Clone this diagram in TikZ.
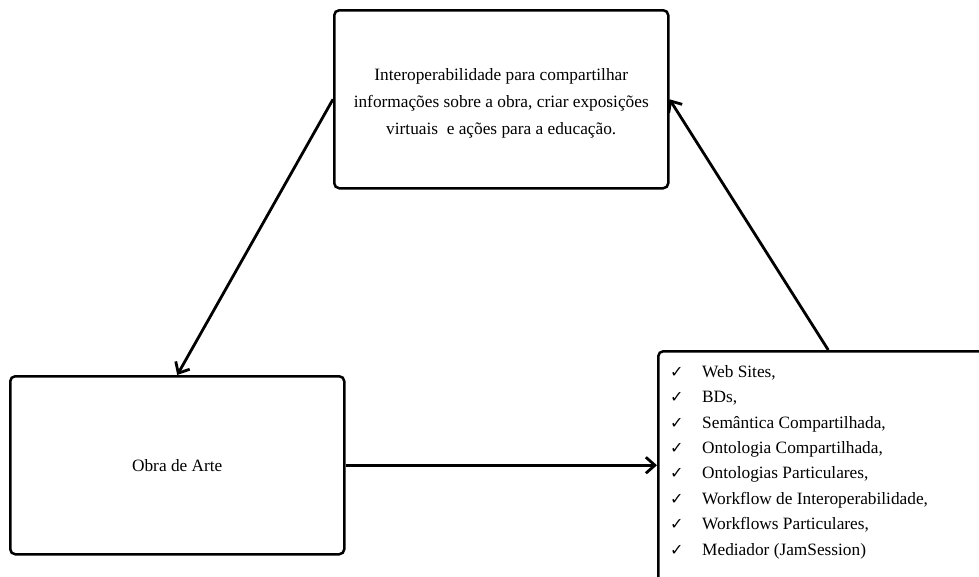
\documentclass[tikz,border=0pt]{standalone}
\usepackage{fontspec}
\setmainfont{Liberation Serif}
\newfontfamily\symfont{DejaVu Sans}
\usetikzlibrary{arrows.meta}
\newcommand{\tick}{\makebox[32pt][l]{\symfont\fontsize{16}{25.4}\selectfont ✓}}
\begin{document}
\begin{tikzpicture}[x=1pt,y=-1pt,
  box/.style={draw=black,line width=2.5pt,rounded corners=5pt,inner sep=0pt},
  link/.style={line width=2.8pt,-{Straight Barb[length=9pt,width=16pt,line width=2.8pt]}},
  every node/.style={font=\fontsize{17.3}{27}\selectfont}]
\useasboundingbox (0,0) rectangle (979,576);
\clip (0,0) rectangle (979,576);
% the three boxes
\node[box,minimum width=334pt,minimum height=178pt,anchor=north west] (goal) at (333,9) {};
\node[align=center,inner sep=0pt] (goaltext) at ([yshift=-4pt]goal.center)
  {Interoperabilidade para compartilhar\\informações sobre a obra, criar exposições\\virtuais \ e ações para a educação.};
\node[box,minimum width=334pt,minimum height=178pt,anchor=north west] (art) at (9,375) {Obra de Arte};
\node[box,minimum width=340pt,minimum height=240pt,anchor=north west] (tools) at (657,350) {};
% checklist inside the right box
\node[anchor=north west,align=left,inner sep=0pt,
      font=\fontsize{17.3}{25.4}\selectfont] (list) at (670,365)
  {\tick Web Sites,\\
   \tick BDs,\\
   \tick Semântica Compartilhada,\\
   \tick Ontologia Compartilhada,\\
   \tick Ontologias Particulares,\\
   \tick Workflow de Interoperabilidade,\\
   \tick Workflows Particulares,\\
   \tick Mediador (JamSession)};
% connectors
\draw[link] (goal.west) -- (art.north);
\draw[link] (art.east) -- (art.east -| tools.west);
\draw[link] (tools.north) -- (goal.east);
\end{tikzpicture}
\end{document}
